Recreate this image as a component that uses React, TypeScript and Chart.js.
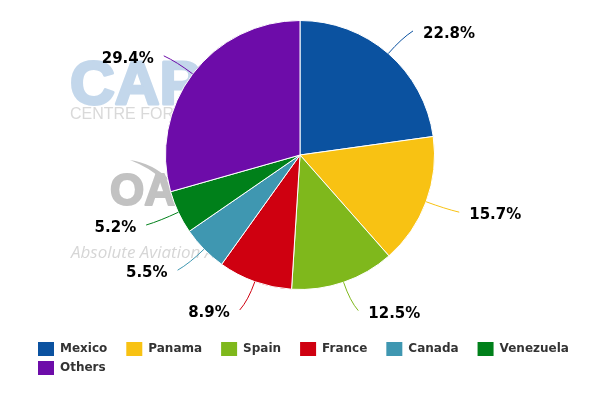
import React, { useEffect, useRef } from "react";
import { Chart, registerables } from "chart.js";

Chart.register(...registerables);

const categories = ["Mexico", "Panama", "Spain", "France", "Canada", "Venezuela", "Others"];
const shares = [22.8, 15.7, 12.5, 8.9, 5.5, 5.2, 29.4];
const colors = ["#0b52a0", "#f8c213", "#7fb81c", "#cf0010", "#3f97b1", "#00801a", "#6d0ca9"];

const watermarkPlugin = {
  id: "watermark",
  beforeDraw(chart: any) {
    const ctx = chart.ctx;
    ctx.save();
    ctx.textBaseline = "alphabetic";
    ctx.textAlign = "left";
    // CAPA logo
    ctx.fillStyle = "#c3d7eb";
    ctx.strokeStyle = "#c3d7eb";
    ctx.lineWidth = 3;
    ctx.lineJoin = "round";
    ctx.font = "bold 62px 'Liberation Sans'";
    ctx.strokeText("CAPA", 70, 104);
    ctx.fillText("CAPA", 70, 104);
    ctx.fillStyle = "#d9d9d9";
    ctx.font = "16px 'Liberation Sans'";
    ctx.fillText("CENTRE FOR AVIATION", 70, 119);
    // OAG logo
    ctx.fillStyle = "#c2c2c2";
    ctx.strokeStyle = "#c2c2c2";
    ctx.lineWidth = 2;
    ctx.font = "bold 44px 'Liberation Sans'";
    ctx.strokeText("OAG", 110, 205);
    ctx.fillText("OAG", 110, 205);
    ctx.beginPath();
    ctx.moveTo(130, 160);
    ctx.quadraticCurveTo(152, 163, 170, 180);
    ctx.lineTo(160, 178);
    ctx.quadraticCurveTo(150, 168, 130, 160);
    ctx.fill();
    ctx.fillStyle = "#d6d6d6";
    ctx.font = "italic 17px 'Open Sans'";
    ctx.fillText("Absolute Aviation Analytics", 71, 258);
    ctx.restore();
  },
};

const labelPlugin = {
  id: "pieLabels",
  afterDatasetsDraw(chart: any) {
    const ctx = chart.ctx;
    const meta = chart.getDatasetMeta(0);
    ctx.save();
    meta.data.forEach((arc: any, i: number) => {
      const { x: cx, y: cy, startAngle, endAngle, outerRadius: r } = arc.getProps(
        ["x", "y", "startAngle", "endAngle", "outerRadius"],
        true
      );
      const a = (startAngle + endAngle) / 2;
      const cos = Math.cos(a);
      const sin = Math.sin(a);
      const side = cos >= 0 ? 1 : -1;
      const ex = cx + r * cos;
      const ey = cy + r * sin;
      const ax = cx + (r + 30) * cos;
      const ay = cy + (r + 30) * sin;
      const kx = cx + (r + 20) * cos;
      const ky = cy + (r + 20) * sin;
      ctx.strokeStyle = colors[i];
      ctx.lineWidth = 1;
      ctx.beginPath();
      ctx.moveTo(ex, ey);
      ctx.quadraticCurveTo(kx, ky, ax + 5 * side, ay);
      ctx.stroke();
      ctx.fillStyle = "#000000";
      ctx.font = "bold 15px 'DejaVu Sans'";
      ctx.textBaseline = "middle";
      ctx.textAlign = side > 0 ? "left" : "right";
      ctx.fillText(shares[i].toFixed(1) + "%", ax + 15 * side, ay + 3);
    });
    ctx.restore();
  },
};

const legendPlugin = {
  id: "customLegend",
  afterDraw(chart: any) {
    const ctx = chart.ctx;
    ctx.save();
    ctx.font = "bold 12px 'DejaVu Sans'";
    ctx.textBaseline = "middle";
    ctx.textAlign = "left";
    const left = 38;
    const maxX = 585;
    let x = left;
    let y = 349;
    categories.forEach((name, i) => {
      const w = 22 + ctx.measureText(name).width;
      if (x + w > maxX) {
        x = left;
        y += 19;
      }
      ctx.fillStyle = colors[i];
      ctx.fillRect(x, y - 7, 16, 14);
      ctx.fillStyle = "#333333";
      ctx.fillText(name, x + 22, y);
      x += w + 19;
    });
    ctx.restore();
  },
};

export default function App() {
  const canvasRef = useRef<HTMLCanvasElement | null>(null);

  useEffect(() => {
    if (!canvasRef.current) return;
    const chart = new Chart(canvasRef.current, {
      type: "pie",
      data: {
        labels: categories,
        datasets: [
          {
            data: shares,
            backgroundColor: colors,
            borderColor: "#ffffff",
            borderWidth: 1,
          },
        ],
      },
      options: {
        responsive: false,
        animation: false,
        devicePixelRatio: 1,
        layout: { padding: { top: 20, bottom: 110, left: 0, right: 0 } },
        plugins: {
          legend: { display: false },
          tooltip: { enabled: false },
        },
      },
      plugins: [watermarkPlugin, labelPlugin, legendPlugin],
    });
    return () => chart.destroy();
  }, []);

  return (
    <div style={{ position: "absolute", left: 0, top: 0, width: 600, height: 400, background: "#ffffff" }}>
      <canvas ref={canvasRef} width={600} height={400} />
    </div>
  );
}
